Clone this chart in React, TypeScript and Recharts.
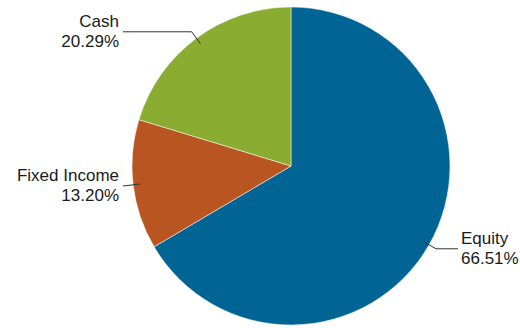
import React from 'react';
import { PieChart, Pie, Cell } from 'recharts';

const categories = ['Equity', 'Fixed Income', 'Cash'];
const values = [66.51, 13.2, 20.29];
const colors = ['#006595', '#B95521', '#89AC31'];

const data = categories.map((name, i) => ({ name, value: values[i] }));

const RAD = Math.PI / 180;

const renderLabel = (props: any) => {
  const { cx, cy, midAngle, outerRadius, index } = props;
  const cos = Math.cos(-midAngle * RAD);
  const sin = Math.sin(-midAngle * RAD);
  const sx = cx + (outerRadius - 7) * cos;
  const sy = cy + (outerRadius - 7) * sin;
  const mx = cx + (outerRadius + 8) * cos;
  const my = cy + (outerRadius + 8) * sin;
  const right = cos >= 0;
  const ex = right ? cx + outerRadius + 8 : cx - outerRadius - 9;
  const tx = right ? ex + 3 : ex - 4;
  const anchor = right ? 'start' : 'end';
  return (
    <g key={`lbl-${index}`}>
      <path d={`M${sx},${sy}L${mx},${my}L${ex},${my}`} stroke="#333" strokeWidth={1} fill="none" />
      <text x={tx} y={my - 5} textAnchor={anchor} fontSize={17} fill="#1a1a1a" fontFamily="'Liberation Sans', Arial, sans-serif">
        {categories[index]}
      </text>
      <text x={tx} y={my + 15} textAnchor={anchor} fontSize={17} fill="#1a1a1a" fontFamily="'Liberation Sans', Arial, sans-serif">
        {values[index].toFixed(2)}%
      </text>
    </g>
  );
};

export default function App() {
  return (
    <div style={{ position: 'absolute', left: 0, top: 0, width: 520, height: 328, background: '#fff' }}>
      <PieChart width={520} height={328} margin={{ top: 0, right: 0, bottom: 0, left: 0 }}>
        <Pie
          data={data}
          dataKey="value"
          nameKey="name"
          cx={291}
          cy={166}
          outerRadius={159}
          startAngle={90}
          endAngle={-270}
          label={renderLabel}
          labelLine={false}
          isAnimationActive={false}
          stroke="rgba(255,255,255,0.5)"
          strokeWidth={1}
        >
          {data.map((d, i) => (
            <Cell key={d.name} fill={colors[i]} />
          ))}
        </Pie>
      </PieChart>
    </div>
  );
}
